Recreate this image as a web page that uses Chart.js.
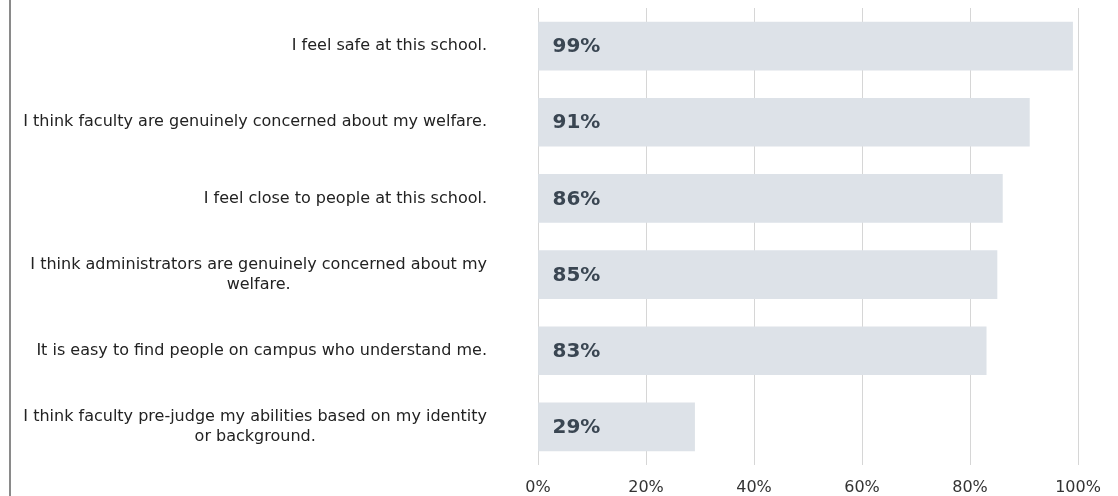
<!DOCTYPE html>
<html>
<head>
<meta charset="utf-8">
<title>School climate</title>
<script src="https://cdn.jsdelivr.net/npm/chart.js@4/dist/chart.umd.min.js"></script>
<style>
  html, body { margin: 0; padding: 0; background: #fff; }
  #wrap { position: relative; width: 1118px; height: 496px; overflow: hidden; }
  #wrap canvas { display: block; }
  #edge { position: absolute; left: 9px; top: 0; width: 2px; height: 496px; background: #8a8a8a; }
</style>
</head>
<body>
<div id="wrap">
  <div id="edge"></div>
  <canvas id="firstChart" width="1118" height="496"></canvas>
</div>
<script>
const statements = [
    ['I feel safe at this school.'],
    ['I think faculty are genuinely concerned about my welfare.'],
    ['I feel close to people at this school.'],
    ['I think administrators are genuinely concerned about my', 'welfare.'],
    ['It is easy to find people on campus who understand me.'],
    ['I think faculty pre-judge my abilities based on my identity', 'or background.']
];
const agree = [99, 91, 86, 85, 83, 29];
const ticks = [0, 20, 40, 60, 80, 100];

const FONT = '"DejaVu Sans", Verdana, sans-serif';

// statement text to the left of the bars, lines centred inside a right-aligned block
const statementLabels = {
    id: 'statementLabels',
    afterDraw(chart) {
        const ctx = chart.ctx;
        const yScale = chart.scales.y;
        const right = chart.chartArea.left - 51;
        ctx.save();
        ctx.font = '16px ' + FONT;
        ctx.fillStyle = '#222';
        ctx.textAlign = 'center';
        ctx.textBaseline = 'middle';
        const lh = 20;
        statements.forEach(function(lines, i){
            const y = yScale.getPixelForValue(i);
            let w = 0;
            lines.forEach(function(l){ w = Math.max(w, ctx.measureText(l).width); });
            const cx = right - w / 2;
            const y0 = y - (lines.length - 1) * lh / 2;
            lines.forEach(function(l, j){ ctx.fillText(l, cx, y0 + j * lh); });
        });
        ctx.restore();
    }
};

// percentage printed at the start of each bar
const valueLabels = {
    id: 'valueLabels',
    afterDatasetsDraw(chart) {
        const ctx = chart.ctx;
        const meta = chart.getDatasetMeta(0);
        ctx.save();
        ctx.font = 'bold 20px ' + FONT;
        ctx.fillStyle = '#3a4652';
        ctx.textAlign = 'left';
        ctx.textBaseline = 'middle';
        meta.data.forEach(function(bar, i){
            ctx.fillText(agree[i] + '%', bar.base + 14, bar.y + 1);
        });
        ctx.restore();
    }
};

const chart = new Chart(document.getElementById('firstChart'), {
    type: 'bar',
    data: {
        labels: statements.map(function(s){ return s.join(' '); }),
        datasets: [{
            label: 'Agree',
            data: agree,
            backgroundColor: '#dde2e8',
            borderWidth: 0,
            barThickness: 48
        }]
    },
    options: {
        indexAxis: 'y',
        responsive: false,
        animation: false,
        layout: { padding: { left: 538, right: 40, top: 8, bottom: 0 } },
        plugins: { legend: { display: false }, tooltip: { enabled: false } },
        scales: {
            x: {
                min: 0,
                max: 100,
                afterBuildTicks: function(axis){
                    axis.ticks = ticks.map(function(v){ return { value: v }; });
                },
                afterFit: function(axis){ axis.height = 31; },
                grid: { color: '#d6d6d6', lineWidth: 1, drawTicks: false },
                border: { display: false },
                ticks: {
                    padding: 13,
                    color: '#333',
                    maxRotation: 0,
                    font: { family: FONT, size: 16 },
                    callback: function(v){ return v + '%'; }
                }
            },
            y: {
                display: false
            }
        }
    },
    plugins: [statementLabels, valueLabels]
});
</script>
</body>
</html>
